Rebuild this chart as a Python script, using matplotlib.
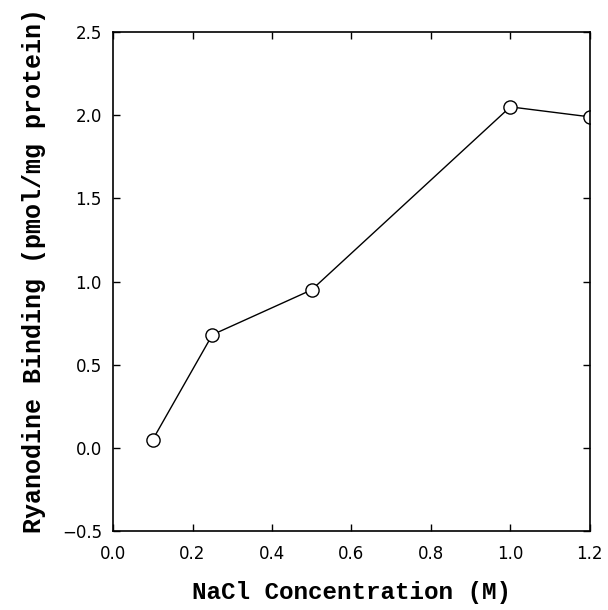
import matplotlib
matplotlib.use("Agg")
import matplotlib.pyplot as plt

# NaCl concentration (M) vs ryanodine binding
nacl = [0.1, 0.25, 0.5, 1.0, 1.2]
binding = [0.05, 0.68, 0.95, 2.05, 1.99]

x_ticks = [0.0, 0.2, 0.4, 0.6, 0.8, 1.0, 1.2]
y_ticks = [-0.5, 0.0, 0.5, 1.0, 1.5, 2.0, 2.5]

fig = plt.figure(figsize=(6.08, 6.10), dpi=100)
ax = fig.add_axes([0.186, 0.1295, 0.784, 0.818])

ax.plot(nacl, binding, color='black', linewidth=1.0, marker='o',
        markersize=9.5, markerfacecolor='white', markeredgecolor='black',
        markeredgewidth=1.0, clip_on=True)

ax.set_xlim(0.0, 1.2)
ax.set_ylim(-0.5, 2.5)
ax.set_xticks(x_ticks)
ax.set_yticks(y_ticks)
ax.set_xticklabels(["%.1f" % v for v in x_ticks])
ax.set_yticklabels(["%.1f" % v if v >= 0 else "\u22120.5" for v in y_ticks])

ax.tick_params(direction='in', length=5, width=1, top=True, right=True,
               labelsize=12)
ax.tick_params(axis='x', pad=10)
ax.tick_params(axis='y', pad=8)
for s in ax.spines.values():
    s.set_linewidth(1.2)

ax.set_xlabel("NaCl Concentration (M)", family="Liberation Mono",
              fontweight='bold', fontsize=17.5, labelpad=13)
ax.set_ylabel("Ryanodine Binding (pmol/mg protein)", family="Liberation Mono",
              fontweight='bold', fontsize=18)
ax.yaxis.set_label_coords(-0.14, 0.523)

fig.savefig("out.png", dpi=100)
